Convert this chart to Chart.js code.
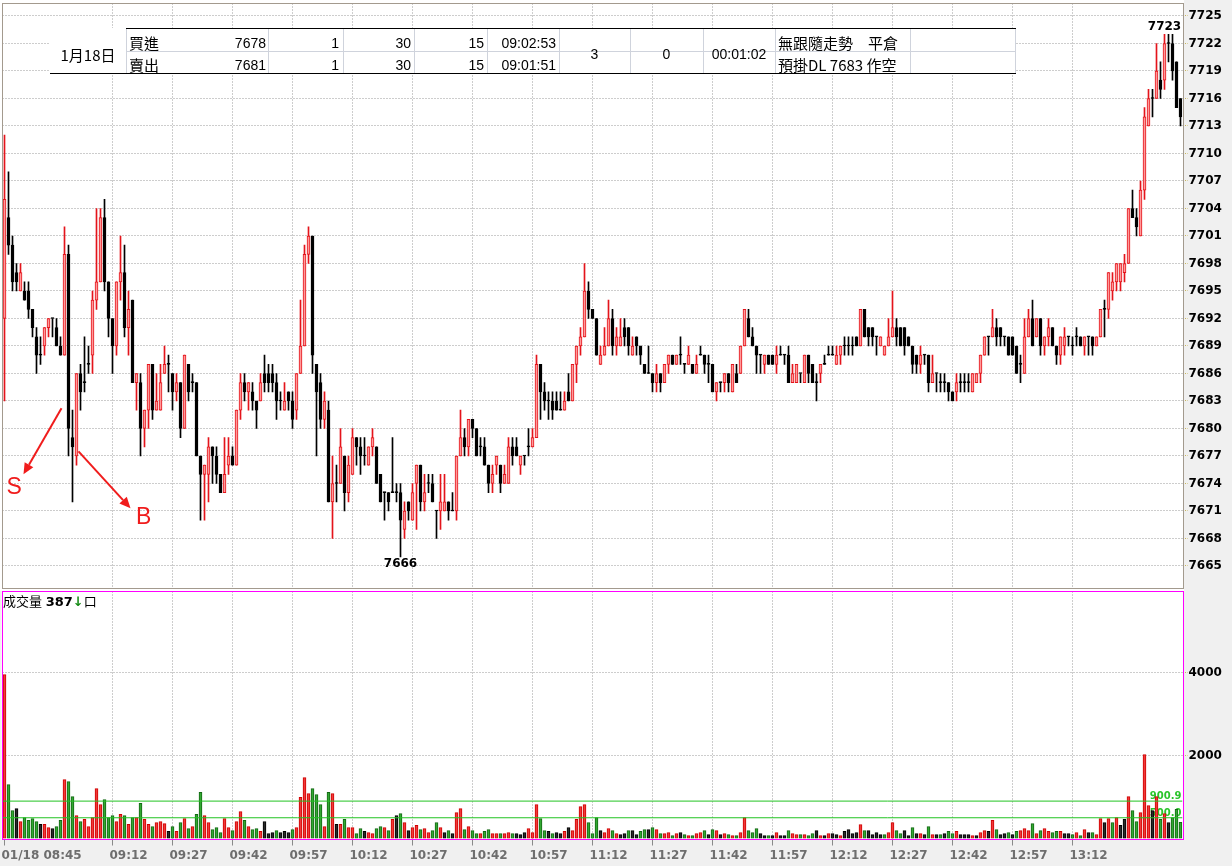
<!DOCTYPE html>
<html>
<head>
<meta charset="utf-8">
<script src="https://cdn.jsdelivr.net/npm/chart.js"></script>
<style>
html,body{margin:0;padding:0;}
body{width:1232px;height:866px;background:#f0f0f0;position:relative;overflow:hidden;}
canvas{position:absolute;left:0;display:block;}
#priceCanvas{top:0;}
#volCanvas{top:590px;}
.ov{position:absolute;white-space:nowrap;color:#000;font-family:"Liberation Sans","Noto Sans CJK TC",sans-serif;font-size:14px;line-height:16px;}
.cjk{font-family:"Noto Sans CJK TC","Liberation Sans",sans-serif;font-size:15px;}
.hl{position:absolute;height:1px;}
.vl{position:absolute;width:1px;background:#cfd3dc;top:29px;height:44px;}
.r{text-align:right;}
.c{text-align:center;}
.frame{position:absolute;box-sizing:border-box;border:1px solid;pointer-events:none;}
</style>
</head>
<body>
<div style="position:absolute;left:0;top:0;width:1184px;height:591px;background:#fff;"></div>
<canvas id="priceCanvas" width="1232" height="590"></canvas>
<canvas id="volCanvas" width="1232" height="276"></canvas>
<div class="frame" style="left:2px;top:3px;width:1182px;height:586px;border-color:#a39a8e;"></div>
<div class="frame" style="left:2px;top:591px;width:1182px;height:249px;border-color:#ff00ff;"></div>

<!-- header table -->
<div style="position:absolute;left:50px;top:28px;width:966px;height:45px;background:#fff;"></div>
<div class="hl" style="left:126px;top:28px;width:890px;background:#000"></div>
<div class="hl" style="left:126px;top:51px;width:890px;background:#cfd3dc"></div>
<div class="hl" style="left:50px;top:73px;width:966px;background:#000"></div>
<div class="vl" style="left:126px"></div>
<div class="vl" style="left:268px"></div>
<div class="vl" style="left:343px"></div>
<div class="vl" style="left:414px"></div>
<div class="vl" style="left:487px"></div>
<div class="vl" style="left:559px"></div>
<div class="vl" style="left:630px"></div>
<div class="vl" style="left:703px"></div>
<div class="vl" style="left:775px"></div>
<div class="vl" style="left:910px"></div>
<div class="vl" style="left:1015px"></div>

<div class="ov cjk c" style="left:50px;width:76px;top:47px">1月18日</div>
<div class="ov cjk" style="left:129px;top:35px">買進</div>
<div class="ov cjk" style="left:129px;top:57px">賣出</div>
<div class="ov r" style="left:200px;width:66px;top:35px">7678</div>
<div class="ov r" style="left:200px;width:66px;top:57px">7681</div>
<div class="ov r" style="left:268px;width:71px;top:35px">1</div>
<div class="ov r" style="left:268px;width:71px;top:57px">1</div>
<div class="ov r" style="left:343px;width:68px;top:35px">30</div>
<div class="ov r" style="left:343px;width:68px;top:57px">30</div>
<div class="ov r" style="left:414px;width:70px;top:35px">15</div>
<div class="ov r" style="left:414px;width:70px;top:57px">15</div>
<div class="ov r" style="left:487px;width:69px;top:35px">09:02:53</div>
<div class="ov r" style="left:487px;width:69px;top:57px">09:01:51</div>
<div class="ov c" style="left:559px;width:71px;top:46px">3</div>
<div class="ov c" style="left:630px;width:73px;top:46px">0</div>
<div class="ov c" style="left:703px;width:72px;top:46px">00:01:02</div>
<div class="ov cjk" style="left:778px;top:35px">無跟隨走勢　平倉</div>
<div class="ov cjk" style="left:778px;top:57px">預掛DL 7683 作空</div>

<div class="ov" style="left:3px;top:593px;font-size:13px;"><span class="cjk" style="font-size:13px">成交量</span> <b id="lastVol" style="font-family:'DejaVu Sans';font-size:13px"></b><span style="color:#168a16;font-weight:bold;font-family:'DejaVu Sans'">↓</span><span class="cjk" style="font-size:13px">口</span></div>

<script>
// ---------------- data ----------------
const opens = [
7692,7703,7700,7697,7695,7695,7695,7693,7690,7688,
7689,7691,7692,7691,7689,7688,7699,7679,7677,7686,
7685,7687,7688,7694,7696,7703,7696,7692,7689,7696,
7697,7691,7694,7685,7685,7680,7682,7687,7682,7682,
7686,7687,7686,7684,7685,7680,7687,7685,7685,7677,
7675,7675,7678,7677,7675,7673,7676,7677,7676,7682,
7685,7684,7684,7683,7683,7686,7686,7686,7685,7683,
7682,7684,7683,7682,7686,7689,7699,7701,7687,7685,
7681,7682,7672,7674,7674,7677,7673,7675,7679,7678,
7677,7676,7678,7678,7675,7673,7673,7673,7673,7673,
7669,7672,7670,7674,7676,7672,7674,7674,7671,7671,
7671,7672,7671,7671,7677,7679,7678,7681,7680,7678,
7678,7676,7674,7676,7676,7674,7674,7678,7678,7676,
7677,7678,7678,7679,7687,7684,7683,7683,7683,7682,
7682,7684,7683,7687,7689,7690,7695,7693,7692,7687,
7688,7689,7692,7689,7689,7691,7691,7688,7690,7689,
7687,7686,7686,7685,7686,7685,7687,7688,7687,7688,
7687,7687,7687,7686,7688,7688,7687,7687,7684,7685,
7685,7686,7684,7686,7686,7689,7692,7690,7689,7688,
7687,7688,7688,7687,7688,7688,7688,7685,7685,7686,
7685,7688,7687,7685,7686,7687,7688,7688,7687,7688,
7689,7689,7689,7690,7689,7693,7691,7691,7690,7689,
7688,7689,7690,7691,7691,7691,7690,7689,7688,7687,
7688,7688,7685,7686,7685,7685,7685,7684,7684,7685,
7685,7685,7684,7685,7686,7688,7690,7690,7691,7691,
7690,7690,7690,7689,7687,7686,7690,7692,7690,7692,
7689,7690,7691,7689,7688,7689,7690,7689,7690,7690,
7689,7690,7690,7689,7690,7693,7693,7695,7696,7696,
7697,7698,7704,7703,7701,7706,7713,7716,7716,7718,
7718,7722,7722,7720,7716];

const highs = [
7712,7708,7701,7698,7698,7696,7696,7693,7691,7690,
7691,7692,7692,7692,7690,7702,7700,7682,7686,7687,
7690,7689,7695,7704,7704,7705,7696,7692,7696,7701,
7700,7695,7694,7686,7686,7682,7687,7687,7686,7687,
7689,7688,7686,7686,7685,7688,7687,7686,7685,7677,
7676,7679,7678,7678,7675,7679,7679,7678,7682,7686,
7686,7685,7685,7683,7686,7688,7687,7687,7686,7684,
7685,7684,7684,7686,7694,7700,7702,7701,7687,7686,
7684,7683,7677,7676,7680,7677,7677,7680,7679,7679,
7679,7678,7680,7678,7675,7673,7673,7679,7674,7674,
7672,7672,7674,7676,7676,7675,7675,7675,7671,7675,
7675,7672,7673,7677,7682,7680,7681,7681,7680,7679,
7679,7676,7676,7677,7676,7676,7679,7679,7679,7677,
7677,7680,7680,7688,7687,7685,7684,7684,7684,7684,
7684,7686,7687,7689,7691,7698,7696,7693,7692,7689,
7691,7694,7693,7691,7692,7692,7691,7690,7690,7689,
7687,7689,7686,7687,7686,7687,7688,7688,7688,7690,
7687,7689,7687,7688,7689,7688,7688,7687,7685,7685,
7686,7686,7687,7687,7689,7693,7693,7691,7689,7688,
7688,7688,7688,7689,7689,7688,7689,7687,7687,7686,
7688,7688,7687,7686,7687,7688,7689,7689,7689,7689,
7690,7690,7690,7690,7693,7693,7691,7691,7690,7690,
7689,7692,7695,7692,7691,7691,7690,7689,7688,7689,
7688,7688,7688,7686,7686,7686,7685,7684,7686,7686,
7686,7686,7686,7686,7688,7690,7690,7693,7692,7691,
7690,7690,7690,7689,7688,7692,7693,7694,7692,7692,
7690,7692,7691,7689,7690,7691,7690,7690,7691,7690,
7690,7690,7690,7690,7693,7694,7697,7697,7698,7698,
7699,7704,7706,7704,7707,7715,7717,7717,7722,7720,
7723,7723,7723,7720,7716];

const lows = [
7683,7699,7695,7695,7695,7694,7692,7690,7686,7687,
7688,7690,7690,7689,7688,7688,7677,7672,7676,7682,
7684,7686,7686,7693,7696,7695,7690,7686,7688,7694,
7690,7688,7685,7682,7677,7678,7680,7681,7682,7682,
7686,7684,7682,7683,7679,7680,7683,7684,7677,7670,
7670,7672,7674,7674,7673,7673,7675,7676,7676,7681,
7683,7682,7682,7680,7683,7684,7684,7684,7681,7682,
7682,7682,7680,7681,7686,7689,7698,7686,7677,7680,
7680,7672,7668,7672,7674,7671,7672,7675,7676,7675,
7676,7676,7677,7674,7672,7670,7671,7673,7672,7666,
7668,7670,7670,7669,7671,7671,7673,7672,7668,7669,
7671,7670,7671,7670,7677,7677,7677,7679,7677,7677,
7676,7673,7673,7675,7673,7674,7674,7676,7677,7675,
7676,7677,7678,7679,7681,7682,7681,7681,7682,7682,
7682,7683,7683,7685,7688,7690,7692,7692,7688,7687,
7688,7689,7688,7688,7689,7689,7688,7688,7688,7687,
7686,7686,7684,7684,7684,7685,7686,7687,7687,7687,
7686,7687,7686,7686,7688,7686,7685,7684,7683,7684,
7684,7684,7684,7685,7686,7689,7690,7689,7686,7686,
7686,7687,7687,7686,7688,7687,7685,7685,7685,7685,
7685,7685,7685,7683,7685,7687,7688,7688,7687,7687,
7688,7688,7688,7689,7689,7690,7689,7689,7688,7689,
7688,7689,7690,7689,7689,7688,7689,7686,7686,7686,
7687,7684,7685,7684,7684,7684,7683,7683,7683,7684,
7684,7684,7684,7685,7685,7688,7688,7690,7689,7689,
7689,7688,7688,7686,7685,7686,7690,7689,7690,7688,
7688,7689,7689,7687,7687,7688,7689,7688,7689,7689,
7688,7688,7688,7689,7690,7690,7692,7694,7695,7695,
7696,7698,7703,7701,7701,7705,7713,7714,7716,7716,
7717,7720,7718,7715,7713];

const closes = [
7705,7700,7696,7696,7697,7694,7693,7691,7688,7688,
7691,7692,7692,7689,7688,7699,7680,7678,7686,7684,
7685,7687,7694,7696,7703,7696,7692,7689,7696,7697,
7691,7693,7685,7686,7680,7682,7687,7682,7683,7685,
7687,7687,7684,7685,7680,7688,7684,7685,7677,7675,
7676,7678,7677,7675,7673,7675,7677,7676,7682,7685,
7684,7685,7683,7682,7685,7685,7685,7685,7683,7683,
7683,7683,7681,7686,7689,7699,7701,7688,7684,7681,
7683,7672,7674,7674,7678,7673,7676,7679,7678,7677,
7677,7678,7679,7674,7672,7673,7672,7673,7673,7670,
7671,7671,7673,7676,7672,7673,7674,7672,7671,7672,
7672,7671,7671,7677,7679,7678,7681,7680,7677,7678,
7676,7674,7675,7677,7674,7675,7678,7677,7677,7677,
7677,7678,7679,7687,7684,7683,7683,7682,7682,7682,
7683,7683,7687,7689,7690,7695,7693,7692,7688,7688,
7689,7692,7689,7690,7690,7690,7689,7689,7689,7688,
7686,7686,7685,7686,7685,7687,7688,7687,7688,7688,
7687,7688,7686,7687,7688,7687,7687,7684,7685,7685,
7686,7685,7687,7685,7689,7693,7690,7689,7688,7688,
7688,7687,7687,7688,7688,7688,7685,7686,7687,7686,
7688,7686,7685,7685,7687,7687,7688,7688,7688,7689,
7689,7689,7689,7689,7693,7690,7690,7690,7690,7690,
7689,7690,7691,7690,7689,7689,7689,7687,7687,7688,
7688,7685,7686,7686,7685,7685,7684,7683,7685,7685,
7685,7685,7686,7686,7688,7690,7690,7691,7690,7690,
7690,7688,7688,7686,7687,7690,7692,7689,7692,7689,
7690,7691,7689,7688,7690,7690,7690,7689,7690,7689,
7690,7690,7689,7690,7693,7693,7697,7696,7698,7698,
7698,7704,7703,7702,7706,7714,7716,7716,7719,7717,
7722,7722,7719,7715,7714];

const volumes = [
3950,1300,675,720,410,505,435,480,410,340,
340,265,240,290,435,1420,1370,1010,555,410,
460,290,505,1200,820,940,505,555,410,580,
555,340,505,505,845,460,340,290,385,410,
360,170,290,170,385,480,240,290,580,1110,
555,385,215,265,145,480,265,190,410,650,
435,290,215,240,170,410,120,145,190,145,
170,145,215,265,990,1470,1085,1200,1060,820,
290,1110,1085,340,340,460,265,265,120,240,
170,145,120,240,290,265,190,460,555,600,
385,190,265,315,215,240,145,190,385,265,
145,190,120,625,720,215,290,190,120,120,
170,215,120,120,120,120,145,120,120,95,
145,240,145,820,480,190,170,120,145,120,
170,265,190,460,770,820,385,120,505,190,
145,240,190,120,95,120,190,190,95,170,
215,215,265,215,120,120,145,70,120,145,
95,70,70,120,145,190,95,215,190,95,
120,95,70,70,145,505,190,145,240,120,
70,70,70,145,70,70,190,120,95,95,
95,70,120,190,70,70,120,120,95,70,
170,215,120,145,337,190,190,95,145,95,
95,145,385,190,120,190,70,265,120,120,
95,290,95,95,95,120,170,120,170,95,
95,95,70,70,145,190,170,435,215,95,
120,145,95,170,190,240,190,360,120,190,
240,170,145,170,170,120,120,95,145,70,
215,145,145,95,480,385,480,385,505,315,
460,1010,675,410,625,2020,795,675,1010,460,
600,385,505,700,387];

const timeTickIndex  = [0, 27, 42, 57, 72, 87, 102, 117, 132, 147, 162, 177, 192, 207, 222, 237, 252, 267];
const timeTickLabels = ['01/18 08:45','09:12','09:27','09:42','09:57','10:12','10:27','10:42','10:57','11:12','11:27','11:42','11:57','12:12','12:27','12:42','12:57','13:12'];
const priceTicks  = [7665,7668,7671,7674,7677,7680,7683,7686,7689,7692,7695,7698,7701,7704,7707,7710,7713,7716,7719,7722,7725];
const volumeTicks = [2000, 4000];
const volumeAvgLines = [900.9, 500.0];

// hand-drawn annotations (index, price)
const annotations = {
  arrows: [
    {from: [14.25, 7682.2], to: [4.75, 7675.0]},
    {from: [18.5, 7677.5], to: [31.5, 7671.3]}
  ],
  letters: [
    {text: 'S', at: [2.4, 7673.6]},
    {text: 'B', at: [34.8, 7670.3]}
  ]
};

// ---------------- chart ----------------
document.getElementById('lastVol').textContent = volumes[volumes.length - 1];

Chart.defaults.font.family = '"DejaVu Sans", sans-serif';
const n = closes.length;
const RED = '#e4141b';
const candleUp = closes.map((c, i) => c > opens[i]);
const volDir = closes.map((c, i) => Math.sign(c - (i === 0 ? opens[0] : closes[i - 1])));

const whiteAreaPlugin = {
  id: 'whiteArea',
  beforeDraw(chart) {
    const {ctx, chartArea: a} = chart;
    ctx.save();
    ctx.fillStyle = '#ffffff';
    ctx.fillRect(a.left - 1, a.top - 1, a.right - a.left + 2, a.bottom - a.top + 2);
    ctx.restore();
  }
};

const annoPlugin = {
  id: 'anno',
  afterDatasetsDraw(chart) {
    const {ctx, scales: {x, y}} = chart;
    ctx.save();
    let hi = 0, lo = 0;
    highs.forEach((h, i) => { if (h > highs[hi]) hi = i; });
    lows.forEach((l, i) => { if (l < lows[lo]) lo = i; });
    ctx.font = 'bold 12px "DejaVu Sans"';
    ctx.fillStyle = '#000';
    ctx.textAlign = 'center';
    ctx.textBaseline = 'bottom';
    ctx.fillText(String(highs[hi]), x.getPixelForValue(hi), y.getPixelForValue(highs[hi]) - 1);
    ctx.textBaseline = 'top';
    ctx.fillText(String(lows[lo]), x.getPixelForValue(lo), y.getPixelForValue(lows[lo]) + 1);

    ctx.strokeStyle = '#f01c1c';
    ctx.fillStyle = '#f01c1c';
    ctx.lineWidth = 2;
    annotations.arrows.forEach(ar => {
      const x0 = x.getPixelForValue(ar.from[0]), y0 = y.getPixelForValue(ar.from[1]);
      const x1 = x.getPixelForValue(ar.to[0]), y1 = y.getPixelForValue(ar.to[1]);
      const ang = Math.atan2(y1 - y0, x1 - x0);
      const hl = 11, hw = 5;
      const bx = x1 - hl * Math.cos(ang), by = y1 - hl * Math.sin(ang);
      ctx.beginPath(); ctx.moveTo(x0, y0); ctx.lineTo(bx, by); ctx.stroke();
      ctx.beginPath();
      ctx.moveTo(x1, y1);
      ctx.lineTo(bx - hw * Math.sin(ang), by + hw * Math.cos(ang));
      ctx.lineTo(bx + hw * Math.sin(ang), by - hw * Math.cos(ang));
      ctx.closePath(); ctx.fill();
    });
    ctx.font = '23px "Liberation Sans"';
    ctx.textAlign = 'center';
    ctx.textBaseline = 'middle';
    annotations.letters.forEach(l => {
      ctx.fillText(l.text, x.getPixelForValue(l.at[0]), y.getPixelForValue(l.at[1]));
    });
    ctx.restore();
  }
};

const avgLabelPlugin = {
  id: 'avgLabels',
  beforeDatasetsDraw(chart) {
    const {ctx, chartArea: a, scales: {y}} = chart;
    ctx.save();
    ctx.font = 'bold 10px "DejaVu Sans"';
    ctx.fillStyle = '#2bc42b';
    ctx.textAlign = 'right';
    ctx.textBaseline = 'alphabetic';
    volumeAvgLines.forEach(v => ctx.fillText(v.toFixed(1), a.right - 1, y.getPixelForValue(v) - 2));
    ctx.restore();
  }
};

const gridColor = '#9a9a9a';
const plainNum = v => String(v);

new Chart(document.getElementById('priceCanvas'), {
  type: 'bar',
  data: {
    datasets: [
      {
        data: closes.map((c, i) => ({x: i, y: [opens[i], c]})),
        backgroundColor: candleUp.map(u => u ? '#ff9a9a' : '#000000'),
        borderColor: candleUp.map(u => u ? RED : '#000000'),
        borderWidth: 1, borderSkipped: false,
        barThickness: 3, minBarLength: 1, grouped: false, order: 0
      },
      {
        data: closes.map((c, i) => ({x: i, y: [lows[i], highs[i]]})),
        backgroundColor: candleUp.map(u => u ? RED : '#000000'),
        borderWidth: 0,
        barThickness: 1, minBarLength: 1, grouped: false, order: 1
      }
    ]
  },
  options: {
    responsive: false, animation: false, events: [], devicePixelRatio: 1,
    layout: {padding: {left: 2.5, top: 3.5, right: 0, bottom: 2}},
    plugins: {legend: {display: false}, tooltip: {enabled: false}},
    scales: {
      x: {
        type: 'linear', offset: false, min: -0.5, max: n - 0.5,
        grid: {offset: false, color: gridColor, drawTicks: false},
        border: {display: false, dash: [1, 2]},
        ticks: {display: false},
        afterBuildTicks: s => { s.ticks = timeTickIndex.filter(v => v > 0).map(v => ({value: v})); },
        afterFit: s => { s.height = 0; s.paddingLeft = 0; s.paddingRight = 0; }
      },
      y: {
        position: 'right', min: 7662.6, max: 7726.36,
        grid: {color: gridColor, drawTicks: true, tickLength: 5, tickColor: '#c8b45a', tickBorderDash: [1, 1]},
        border: {display: false, dash: [1, 2]},
        ticks: {font: {size: 12, weight: 'bold'}, color: '#000', padding: 1, callback: plainNum},
        afterBuildTicks: s => { s.ticks = priceTicks.map(v => ({value: v})); },
        afterFit: s => { s.width = 49.5; s.paddingTop = 0; s.paddingBottom = 0; }
      }
    }
  },
  plugins: [whiteAreaPlugin, annoPlugin]
});

const volFill = volDir.map(d => d > 0 ? '#f03a3a' : d < 0 ? '#33a833' : '#2a2a2a');
const volEdge = volDir.map(d => d > 0 ? '#d00000' : d < 0 ? '#136813' : '#000000');

new Chart(document.getElementById('volCanvas'), {
  type: 'bar',
  data: {
    datasets: [
      ...volumeAvgLines.map(v => ({
        type: 'line',
        data: [{x: -0.5, y: v}, {x: n - 0.5, y: v}],
        borderColor: '#22c322', borderWidth: 1, pointRadius: 0, order: -1
      })),
      {
        data: volumes.map((v, i) => ({x: i, y: v})),
        backgroundColor: volFill, borderColor: volEdge,
        borderWidth: 1, borderSkipped: false,
        barThickness: 3, grouped: false, order: 1
      }
    ]
  },
  options: {
    responsive: false, animation: false, events: [], devicePixelRatio: 1,
    layout: {padding: {left: 2.5, top: 1.5, right: 0, bottom: 0}},
    plugins: {legend: {display: false}, tooltip: {enabled: false}},
    scales: {
      x: {
        type: 'linear', offset: false, min: -0.5, max: n - 0.5,
        grid: {offset: false, color: c => c.index === 0 ? 'rgba(0,0,0,0)' : gridColor, tickColor: '#8a8a8a', tickLength: 7, drawTicks: true},
        border: {display: false, dash: [1, 2]},
        ticks: {
          autoSkip: false, maxRotation: 0, minRotation: 0, align: 'start', labelOffset: -3, padding: 3,
          color: '#6e6e6e', font: {size: 12, weight: 'bold'},
          callback: v => timeTickLabels[timeTickIndex.indexOf(v)]
        },
        afterBuildTicks: s => { s.ticks = timeTickIndex.map(v => ({value: v})); },
        afterFit: s => { s.height = 27.5; s.paddingLeft = 0; s.paddingRight = 0; }
      },
      y: {
        position: 'right', min: 0, max: 5952,
        grid: {color: gridColor, drawTicks: true, tickLength: 5, tickColor: '#c8b45a', tickBorderDash: [1, 1]},
        border: {display: false, dash: [1, 2]},
        ticks: {font: {size: 12, weight: 'bold'}, color: '#000', padding: 1, callback: plainNum},
        afterBuildTicks: s => { s.ticks = volumeTicks.map(v => ({value: v})); },
        afterFit: s => { s.width = 49.5; s.paddingTop = 0; s.paddingBottom = 0; }
      }
    }
  },
  plugins: [whiteAreaPlugin, avgLabelPlugin]
});
</script>
</body>
</html>
